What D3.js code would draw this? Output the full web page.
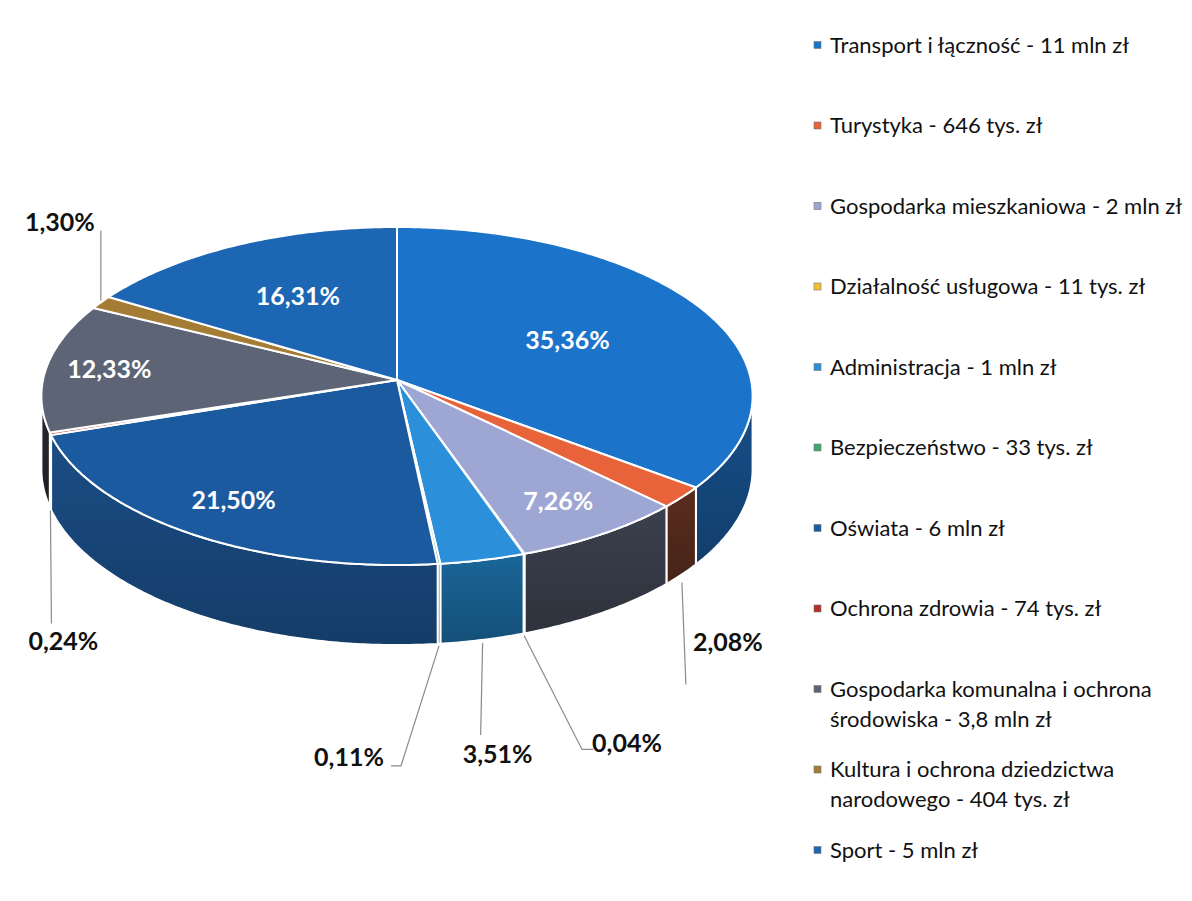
<!DOCTYPE html>
<html><head><meta charset="utf-8">
<script src="https://cdn.jsdelivr.net/npm/d3@7"></script>
<style>body{margin:0;background:#fff}svg{display:block}</style>
</head><body><svg id="chart" width="1192" height="901"></svg>
<script>
// ---------- DATA ----------
const categories = [
  "Transport i łączność - 11 mln zł",
  "Turystyka - 646 tys. zł",
  "Gospodarka mieszkaniowa - 2 mln zł",
  "Działalność usługowa - 11 tys. zł",
  "Administracja - 1 mln zł",
  "Bezpieczeństwo - 33 tys. zł",
  "Oświata - 6 mln zł",
  "Ochrona zdrowia - 74 tys. zł",
  "Gospodarka komunalna i ochrona\nśrodowiska - 3,8 mln zł",
  "Kultura i ochrona dziedzictwa\nnarodowego - 404 tys. zł",
  "Sport - 5 mln zł"
];
const shares = [35.36, 2.08, 7.26, 0.04, 3.51, 0.11, 21.50, 0.24, 12.33, 1.30, 16.31];
const topColors  = ["#1b74c9","#e8623a","#9ea6d4","#f2c12e","#2b90d9","#3fa86e","#1c5a9f","#b52e2a","#5d6476","#a47c34","#1d66b3"];
const sideColors = ["#174f8a","#5a2d1e","#3a404d","#8a6a10","#1a6699","#225c3c","#1a4d85","#5e1a18","#25282f","#5a4418","#123f70"];

// ---------- LAYOUT ----------
const svg = d3.select("#chart");
const cx = 397, cy = 380, A = 354, B = 167.5, P = 0.0946, DEPTH = 72.5;
const fmt = v => d3.format(".2f")(v).replace(".", ",") + "%";

function proj(theta, r, depth) {
  const u = r * Math.sin(theta), v = r * Math.cos(theta);
  const w = 1 + P * v;
  return [cx + A * u / w, cy + (-B * v + depth) / w];
}
const arcs = d3.pie().sort(null).value(d => d)(shares);
const line = d3.line();
function arcPts(a0, a1, depth, r = 1) {
  const n = Math.max(2, Math.ceil((a1 - a0) / 0.01));
  return d3.range(n + 1).map(i => proj(a0 + (a1 - a0) * i / n, r, depth));
}

const defs = svg.append("defs");
const g = defs.append("linearGradient").attr("id", "shade").attr("x1", 0).attr("y1", 0).attr("x2", 0).attr("y2", 1);
g.append("stop").attr("offset", 0).attr("stop-color", "#000").attr("stop-opacity", 0);
g.append("stop").attr("offset", 1).attr("stop-color", "#000").attr("stop-opacity", 0.22);

// Side walls (front visible range)
const vis0 = Math.PI / 2 + Math.asin(P), vis1 = 3 * Math.PI / 2 - Math.asin(P);
const sides = svg.append("g");
arcs.forEach((a, i) => {
  const s = Math.max(a.startAngle, vis0), e = Math.min(a.endAngle, vis1);
  if (e <= s) return;
  const pts = arcPts(s, e, 0).concat(arcPts(s, e, DEPTH).reverse());
  sides.append("path").attr("d", line(pts) + "Z").attr("fill", sideColors[i]);
  sides.append("path").attr("d", line(pts) + "Z").attr("fill", "url(#shade)")
    .attr("stroke", "#fff").attr("stroke-width", 2).attr("stroke-linejoin", "round");
});

// Top faces
const tops = svg.append("g");
arcs.forEach((a, i) => {
  const pts = [[cx, cy]].concat(arcPts(a.startAngle, a.endAngle, 0));
  tops.append("path").attr("d", line(pts) + "Z").attr("fill", topColors[i])
    .attr("stroke", "#fff").attr("stroke-width", 2).attr("stroke-linejoin", "round");
});

// Inside labels
const insideR = {0: 0.55, 2: 0.8, 6: 0.8, 8: 0.82, 10: 0.6};
const lab = svg.append("g").attr("font-family", "Lato, 'Open Sans', sans-serif")
  .attr("font-weight", "bold").attr("font-size", 25).attr("text-anchor", "middle");
arcs.forEach((a, i) => {
  if (shares[i] < 5) return;
  const mid = (a.startAngle + a.endAngle) / 2;
  const p = proj(mid, insideR[i], 0);
  lab.append("text").attr("x", p[0]).attr("y", p[1]).attr("dy", "0.35em")
    .attr("fill", "#fff").text(fmt(shares[i]));
});

// Outside labels with leader lines: anchor kind, leader path offsets, label offset
const outside = {
  1: {at: "bottom", gap: 8, path: [[4, 110]], label: [46, 68]},
  3: {at: "bottom", gap: 2, path: [[58, 116], [69, 116]], label: [103, 110]},
  4: {at: "bottom", gap: 3, path: [[-2, 95]], label: [15, 114]},
  5: {at: "bottom", gap: 2, path: [[-38, 122], [-48, 122]], label: [-90, 113]},
  7: {at: "bottom", gap: 2, path: [[1, 115]], label: [13, 133]},
  9: {at: "top", gap: -2, path: [[0, -72]], label: [-41, -80]}
};
const leaders = svg.append("g").attr("stroke", "#8a8a8a").attr("stroke-width", 1.2).attr("fill", "none");
arcs.forEach((a, i) => {
  const o = outside[i];
  if (!o) return;
  const mid = (a.startAngle + a.endAngle) / 2;
  const anc = proj(mid, 1, o.at === "bottom" ? DEPTH : 0);
  const start = [anc[0], anc[1] + o.gap];
  const pts = [start].concat(o.path.map(d => [anc[0] + d[0], anc[1] + d[1]]));
  leaders.append("path").attr("d", line(pts));
  lab.append("text").attr("x", anc[0] + o.label[0]).attr("y", anc[1] + o.label[1]).attr("dy", "0.35em")
    .attr("fill", "#111").text(fmt(shares[i]));
});

// Legend
const ly = d3.scalePoint().domain(d3.range(categories.length)).range([45, 850]);
const leg = svg.append("g").attr("font-family", "Lato, 'Open Sans', sans-serif").attr("font-size", 22).attr("fill", "#111");
categories.forEach((c, i) => {
  const y = ly(i);
  leg.append("rect").attr("x", 814).attr("y", y - 3.5).attr("width", 7).attr("height", 7)
    .attr("fill", topColors[i]).attr("stroke", "#777").attr("stroke-width", 0.6);
  const t = leg.append("text").attr("x", 830).attr("y", y);
  c.split("\n").forEach((ln, k) => {
    t.append("tspan").attr("x", 830).attr("dy", k === 0 ? "0.35em" : 30).text(ln);
  });
});
</script></body></html>
